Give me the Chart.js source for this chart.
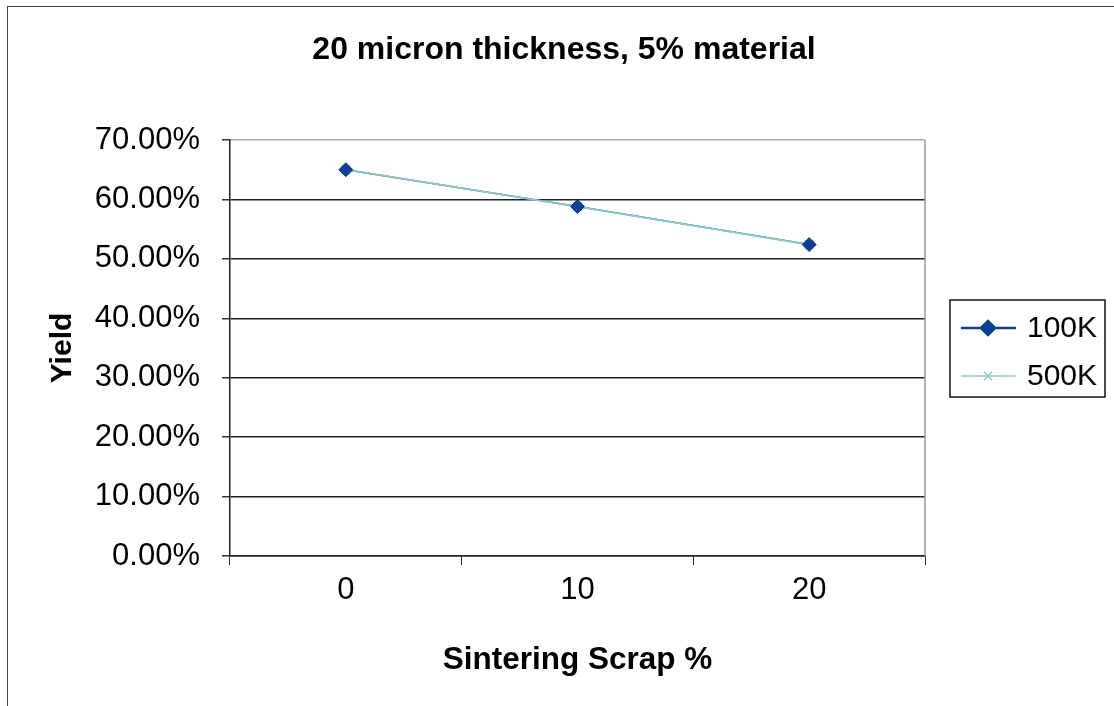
<!DOCTYPE html>
<html>
<head>
<meta charset="utf-8">
<script src="https://cdn.jsdelivr.net/npm/chart.js@4.4.1/dist/chart.umd.min.js"></script>
<style>
  html, body { margin: 0; padding: 0; background: #fff; overflow: hidden; }
  #wrap { position: absolute; left: 0; top: 0; width: 1114px; height: 706px; }
  #frame { position: absolute; left: 7px; top: 6px; width: 1120px; height: 720px;
           border-top: 1.5px solid #444; border-left: 1.5px solid #444; }
</style>
</head>
<body>
<div id="frame"></div>
<div id="wrap"><canvas id="c" width="1114" height="706"></canvas></div>
<script>
const categories = ['0', '10', '20'];
const series100K = [0.650, 0.588, 0.524];
const series500K = [0.650, 0.588, 0.524];
const seriesNames = ['100K', '500K'];
const yTicks = [0, 0.1, 0.2, 0.3, 0.4, 0.5, 0.6, 0.7];

const FONT = '"Liberation Sans", Arial, sans-serif';
const C100 = '#0d3f92';
const C500 = '#93c8cb';

const legendPlugin = {
  id: 'boxLegend',
  afterDraw(chart) {
    const ctx = chart.ctx;
    const left = 950, top = 300, right = 1105, bottom = 397;
    ctx.save();
    ctx.strokeStyle = '#111';
    ctx.lineWidth = 1.5;
    ctx.strokeRect(left, top, right - left, bottom - top);
    const rows = [
      { name: seriesNames[0], color: C100, style: 'rectRot', y: 328, lw: 2.5 },
      { name: seriesNames[1], color: C500, style: 'crossRot', y: 376, lw: 1.5 }
    ];
    rows.forEach(r => {
      ctx.strokeStyle = r.color;
      ctx.lineWidth = r.lw;
      ctx.beginPath();
      ctx.moveTo(961, r.y);
      ctx.lineTo(1016, r.y);
      ctx.stroke();
      ctx.fillStyle = r.color;
      ctx.strokeStyle = r.color;
      Chart.helpers.drawPoint(ctx, {
        pointStyle: r.style, radius: r.style === 'rectRot' ? 7 : 6, rotation: 0,
        borderWidth: 1.5
      }, 988, r.y);
      ctx.fillStyle = '#000';
      ctx.font = '30px ' + FONT;
      ctx.textBaseline = 'middle';
      ctx.textAlign = 'left';
      ctx.fillText(r.name, 1027, r.y + 1);
    });
    ctx.restore();
  }
};

const rightBorder = {
  id: 'rightBorder',
  beforeDatasetsDraw(chart) {
    const a = chart.chartArea, ctx = chart.ctx;
    ctx.save();
    ctx.strokeStyle = '#999';
    ctx.lineWidth = 1.5;
    ctx.beginPath();
    ctx.moveTo(a.right, a.top);
    ctx.lineTo(a.right, a.bottom);
    ctx.stroke();
    ctx.restore();
  }
};

new Chart(document.getElementById('c'), {
  type: 'line',
  data: {
    labels: categories,
    datasets: [
      { label: seriesNames[0] + ' markers', data: series100K, order: 0, showLine: false,
        pointStyle: 'rectRot', pointRadius: 7, pointBackgroundColor: C100,
        pointBorderColor: C100, pointBorderWidth: 1, yAxisID: 'y' },
      { label: seriesNames[1], data: series500K, order: 1, borderColor: C500, borderWidth: 1.8,
        pointStyle: 'crossRot', pointRadius: 6, pointBorderColor: C500, pointBorderWidth: 1.5,
        tension: 0, yAxisID: 'y' },
      { label: seriesNames[0], data: series100K, order: 2, borderColor: C100, borderWidth: 1.5,
        pointRadius: 0, tension: 0, yAxisID: 'y' }
    ]
  },
  options: {
    responsive: false,
    animation: false,
    devicePixelRatio: 1,
    layout: { padding: { left: 14, right: 0, top: 0, bottom: 0 } },
    plugins: {
      legend: { display: false },
      tooltip: { enabled: false },
      title: {
        display: true,
        text: '20 micron thickness, 5% material',
        color: '#000',
        font: { family: FONT, size: 32, weight: 'bold' },
        padding: { top: 31, bottom: 70.6 }
      }
    },
    scales: {
      x: {
        type: 'category',
        offset: true,
        afterFit(s) { s.height = 150; },
        grid: { display: true, drawOnChartArea: false, offset: true, tickLength: 9,
                color: '#333', tickColor: '#333', lineWidth: 1 },
        border: { display: true, color: '#222', width: 1.5 },
        ticks: { color: '#000', font: { family: FONT, size: 31 }, padding: 7, maxRotation: 0 },
        title: { display: true, text: 'Sintering Scrap %', color: '#000',
                 font: { family: FONT, size: 31.5, weight: 'bold' }, padding: { top: 0, bottom: 27 } }
      },
      y: {
        min: 0, max: 0.7,
        afterFit(s) { s.width = 216; },
        afterBuildTicks(s) { s.ticks = yTicks.map(v => ({ value: v })); },
        grid: {
          color: ctx => (ctx.tick && ctx.tick.value >= 0.699) ? '#aaa' : '#222',
          tickColor: '#333', tickLength: 8, lineWidth: 1.5
        },
        border: { display: true, color: '#222', width: 1.5 },
        ticks: {
          color: '#000', font: { family: FONT, size: 31 }, padding: 22,
          callback: v => (v * 100).toFixed(2) + '%'
        },
        title: { display: true, text: 'Yield', color: '#000',
                 font: { family: FONT, size: 30, weight: 'bold' }, padding: { top: 31, bottom: 0 } }
      },
      legendSpace: {
        type: 'linear',
        position: 'right',
        display: true,
        afterFit(s) { s.width = 189; },
        grid: { display: false, drawTicks: false },
        border: { display: false },
        ticks: { display: false }
      }
    }
  },
  plugins: [legendPlugin, rightBorder]
});
</script>
</body>
</html>
